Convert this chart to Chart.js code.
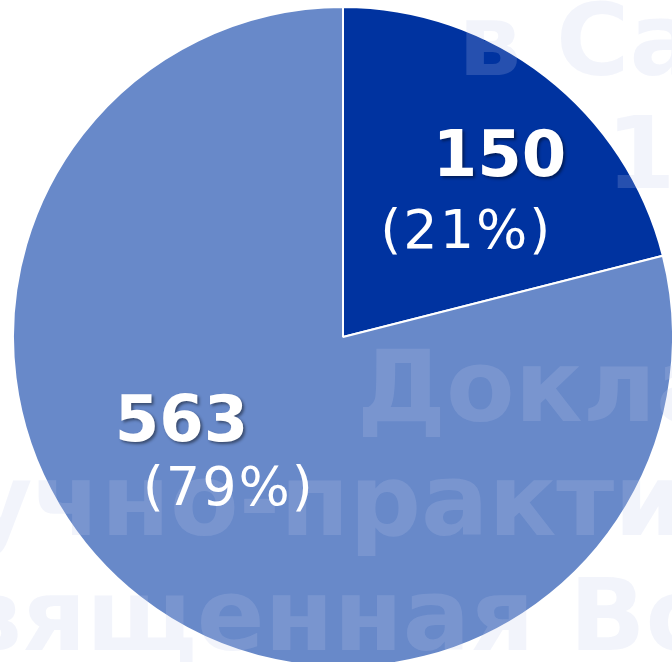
<!DOCTYPE html>
<html>
<head>
<meta charset="utf-8">
<script src="https://cdn.jsdelivr.net/npm/chart.js@4"></script>
<style>
  html, body { margin: 0; padding: 0; background: #ffffff; overflow: hidden; }
  #wrap { width: 672px; height: 662px; position: relative; }
</style>
</head>
<body>
<div id="wrap"><canvas id="c" width="672" height="662"></canvas></div>
<script>
// ---- data ----
const categories = ["A", "B"];
const values = [150, 563];
const sliceColors = ["#0033A0", "#6889C9"];

// background watermark fragments (faint text of the slide behind the chart)
const watermarkLines = ["в Са", "1", "Докла", "учно-практи", "вященная Во"];

// ---- layout for labels (polar offsets relative to pie centre) ----
const labelLayout = [
  { value: { ang: 40.3, frac: 0.733 }, pct: { ang: 48.35, frac: 0.496 } },
  { value: { ang: 243.4, frac: 0.547 }, pct: { ang: 217.9, frac: 0.568 } }
];
const watermarkLayout = [
  { x: 458, y: 75 },
  { x: 606, y: 188 },
  { x: 357, y: 421 },
  { x: 101, y: 535, anchorIdx: 2 },
  { x: 22, y: 650, anchorIdx: 1 }
];

const total = values.reduce((a, b) => a + b, 0);

const watermarkPlugin = {
  id: 'watermark',
  afterDatasetsDraw(chart) {
    const ctx = chart.ctx;
    ctx.save();
    ctx.font = 'bold 100px "DejaVu Sans"';
    ctx.fillStyle = 'rgba(190,200,235,0.2)';
    ctx.textBaseline = 'alphabetic';
    ctx.textAlign = 'left';
    watermarkLines.forEach((t, i) => {
      const L = watermarkLayout[i];
      let x = L.x;
      if (L.anchorIdx) x = L.x - ctx.measureText(t.slice(0, L.anchorIdx)).width;
      ctx.fillText(t, x, L.y);
    });
    ctx.restore();
  }
};

const labelPlugin = {
  id: 'sliceLabels',
  afterDraw(chart) {
    const ctx = chart.ctx;
    const meta = chart.getDatasetMeta(0);
    ctx.save();
    ctx.textAlign = 'center';
    ctx.textBaseline = 'alphabetic';
    meta.data.forEach((arc, i) => {
      const cx = arc.x, cy = arc.y, r = arc.outerRadius;
      const L = labelLayout[i];
      const pos = (p) => {
        const a = p.ang * Math.PI / 180;
        return [cx + Math.sin(a) * r * p.frac, cy - Math.cos(a) * r * p.frac];
      };
      // value
      let [x, y] = pos(L.value);
      const fsV = 64;
      ctx.font = 'bold ' + fsV + 'px "DejaVu Sans"';
      ctx.fillStyle = '#ffffff';
      ctx.letterSpacing = '0px';
      ctx.shadowColor = 'rgba(0,0,0,0.45)';
      ctx.shadowOffsetX = 2; ctx.shadowOffsetY = 2; ctx.shadowBlur = 3;
      ctx.fillText(String(values[i]), x, y + fsV * 0.3645);
      ctx.shadowColor = 'rgba(0,0,0,0)';
      ctx.shadowOffsetX = 0; ctx.shadowOffsetY = 0; ctx.shadowBlur = 0;
      // percent
      [x, y] = pos(L.pct);
      const fsP = 54;
      ctx.font = fsP + 'px "DejaVu Sans"';
      ctx.letterSpacing = '2px';
      const pct = Math.round(values[i] / total * 100);
      ctx.fillText('(' + pct + '%)', x + 1, y + fsP * 0.3645);
    });
    ctx.restore();
  }
};

new Chart(document.getElementById('c'), {
  type: 'pie',
  data: {
    labels: categories,
    datasets: [{
      data: values,
      backgroundColor: sliceColors,
      borderColor: '#ffffff',
      borderWidth: 2,
      radius: 330,
      clip: false
    }]
  },
  options: {
    responsive: false,
    animation: false,
    layout: { padding: { left: 14, right: 0, top: 12, bottom: 0 } },
    plugins: { legend: { display: false }, tooltip: { enabled: false } },
    events: []
  },
  plugins: [watermarkPlugin, labelPlugin]
});
</script>
</body>
</html>
